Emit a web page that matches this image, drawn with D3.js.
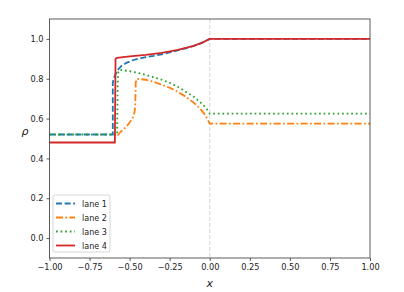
<!DOCTYPE html>
<html>
<head>
<meta charset="utf-8">
<script src="https://cdn.jsdelivr.net/npm/d3@7"></script>
<style>
  body { margin: 0; background: #fff; }
  svg { display: block; font-family: "DejaVu Sans", sans-serif; }
</style>
</head>
<body>
<svg id="chart" width="404" height="292"></svg>
<script>
// --- data ---
const lane1X = [-1, -0.605, -0.605, -0.6, -0.59, -0.58, -0.57, -0.55, -0.52, -0.48, -0.45, -0.4, -0.35, -0.3, -0.25, -0.2, -0.15, -0.1, -0.05, 0, 1];
const lane1Y = [0.52, 0.52, 0.78, 0.80, 0.82, 0.835, 0.848, 0.865, 0.88, 0.893, 0.90, 0.908, 0.915, 0.923, 0.932, 0.942, 0.953, 0.965, 0.98, 1.0, 1.0];

// lane 2's left state sits under lanes 1/3, only the part from the fan on is visible
const lane2X = [-0.575, -0.56, -0.54, -0.52, -0.5, -0.48, -0.47, -0.465, -0.462, -0.455, -0.4, -0.35, -0.3, -0.25, -0.2, -0.15, -0.1, -0.06, -0.03, -0.01, 0, 1];
const lane2Y = [0.515, 0.53, 0.545, 0.56, 0.58, 0.605, 0.63, 0.66, 0.78, 0.80, 0.795, 0.785, 0.77, 0.755, 0.735, 0.71, 0.68, 0.65, 0.62, 0.59, 0.575, 0.575];

const lane3X = [-1, -0.578, -0.574, -0.57, -0.56, -0.5, -0.45, -0.4, -0.35, -0.3, -0.25, -0.2, -0.15, -0.1, -0.05, -0.02, 0, 1];
const lane3Y = [0.52, 0.52, 0.80, 0.835, 0.845, 0.838, 0.83, 0.82, 0.808, 0.795, 0.78, 0.76, 0.735, 0.71, 0.675, 0.65, 0.625, 0.625];

const lane4X = [-1, -0.592, -0.588, -0.58, -0.5, -0.4, -0.3, -0.25, -0.2, -0.15, -0.1, -0.05, 0, 1];
const lane4Y = [0.48, 0.48, 0.90, 0.905, 0.912, 0.92, 0.93, 0.937, 0.945, 0.955, 0.965, 0.98, 1.0, 1.0];

const laneNames = ["lane 1", "lane 2", "lane 3", "lane 4"];
const laneColors = ["#1f77b4", "#ff7f0e", "#2ca02c", "#d62728"];
const laneDashes = ["6,2.6", "7,2.4,1.7,2.4", "1.7,2.9", null];

const xTicks = [-1, -0.75, -0.5, -0.25, 0, 0.25, 0.5, 0.75, 1];
const yTicks = [0, 0.2, 0.4, 0.6, 0.8, 1.0];

const svg = d3.select("#chart");
const plot = { left: 49.5, right: 370, top: 19, bottom: 258 };

const x = d3.scaleLinear().domain([-1, 1]).range([plot.left, plot.right]);
const y = d3.scaleLinear().domain([-0.1, 1.1]).range([plot.bottom, plot.top]);

// vertical reference line at x = 0
svg.append("line")
  .attr("x1", x(0)).attr("x2", x(0))
  .attr("y1", plot.top).attr("y2", plot.bottom)
  .attr("stroke", "#cfcfcf")
  .attr("stroke-width", 0.9)
  .attr("stroke-dasharray", "4,2");

const lanes = [
  [lane1X, lane1Y],
  [lane2X, lane2Y],
  [lane3X, lane3Y],
  [lane4X, lane4Y]
];

const line = d3.line().x(d => x(d[0])).y(d => y(d[1]));

svg.append("clipPath").attr("id", "clip")
  .append("rect")
  .attr("x", plot.left).attr("y", plot.top)
  .attr("width", plot.right - plot.left)
  .attr("height", plot.bottom - plot.top);

const lineGroup = svg.append("g").attr("clip-path", "url(#clip)");

lanes.forEach((lane, i) => {
  const pts = lane[0].map((v, j) => [v, lane[1][j]]);
  lineGroup.append("path")
    .attr("d", line(pts))
    .attr("fill", "none")
    .attr("stroke", laneColors[i])
    .attr("stroke-width", 1.8)
    .attr("stroke-dasharray", laneDashes[i]);
});

// frame
svg.append("rect")
  .attr("x", plot.left).attr("y", plot.top)
  .attr("width", plot.right - plot.left)
  .attr("height", plot.bottom - plot.top)
  .attr("fill", "none")
  .attr("stroke", "#333")
  .attr("stroke-width", 0.8);

// axes
const xAxis = svg.append("g")
  .attr("transform", `translate(0,${plot.bottom})`)
  .call(d3.axisBottom(x).tickValues(xTicks).tickSize(3).tickPadding(3));
const yAxis = svg.append("g")
  .attr("transform", `translate(${plot.left},0)`)
  .call(d3.axisLeft(y).tickValues(yTicks).tickSize(3).tickPadding(3));

[xAxis, yAxis].forEach(ax => {
  ax.select(".domain").remove();
  ax.selectAll("line").attr("stroke", "#333").attr("stroke-width", 0.8);
  ax.selectAll("text")
    .attr("fill", "#222")
    .style("font-size", "8.2px")
    .style("font-family", "DejaVu Sans, sans-serif");
});
xAxis.selectAll("text").text(d => d3.format(".2f")(d).replace("-", "\u2212"));
yAxis.selectAll("text").text(d => d3.format(".1f")(d).replace("-", "\u2212"));

// axis labels
svg.append("text")
  .attr("x", x(0)).attr("y", 287)
  .attr("text-anchor", "middle")
  .style("font-size", "11px")
  .style("font-style", "italic")
  .attr("fill", "#222")
  .text("x");
svg.append("text")
  .attr("x", 25).attr("y", 135)
  .attr("text-anchor", "middle")
  .style("font-size", "11px")
  .style("font-style", "italic")
  .attr("fill", "#222")
  .text("ρ");

// legend
const legend = svg.append("g").attr("transform", "translate(53,195)");
legend.append("rect")
  .attr("width", 57).attr("height", 57)
  .attr("rx", 2)
  .attr("fill", "white")
  .attr("fill-opacity", 0.8)
  .attr("stroke", "#ccc")
  .attr("stroke-width", 0.8);

laneNames.forEach((name, i) => {
  const row = legend.append("g").attr("transform", `translate(0,${8.5 + i * 14})`);
  row.append("line")
    .attr("x1", 3).attr("x2", 22)
    .attr("stroke", laneColors[i])
    .attr("stroke-width", 1.8)
    .attr("stroke-dasharray", laneDashes[i]);
  row.append("text")
    .attr("x", 29).attr("y", 3)
    .style("font-size", "8px")
    .attr("fill", "#222")
    .text(name);
});
</script>
</body>
</html>
